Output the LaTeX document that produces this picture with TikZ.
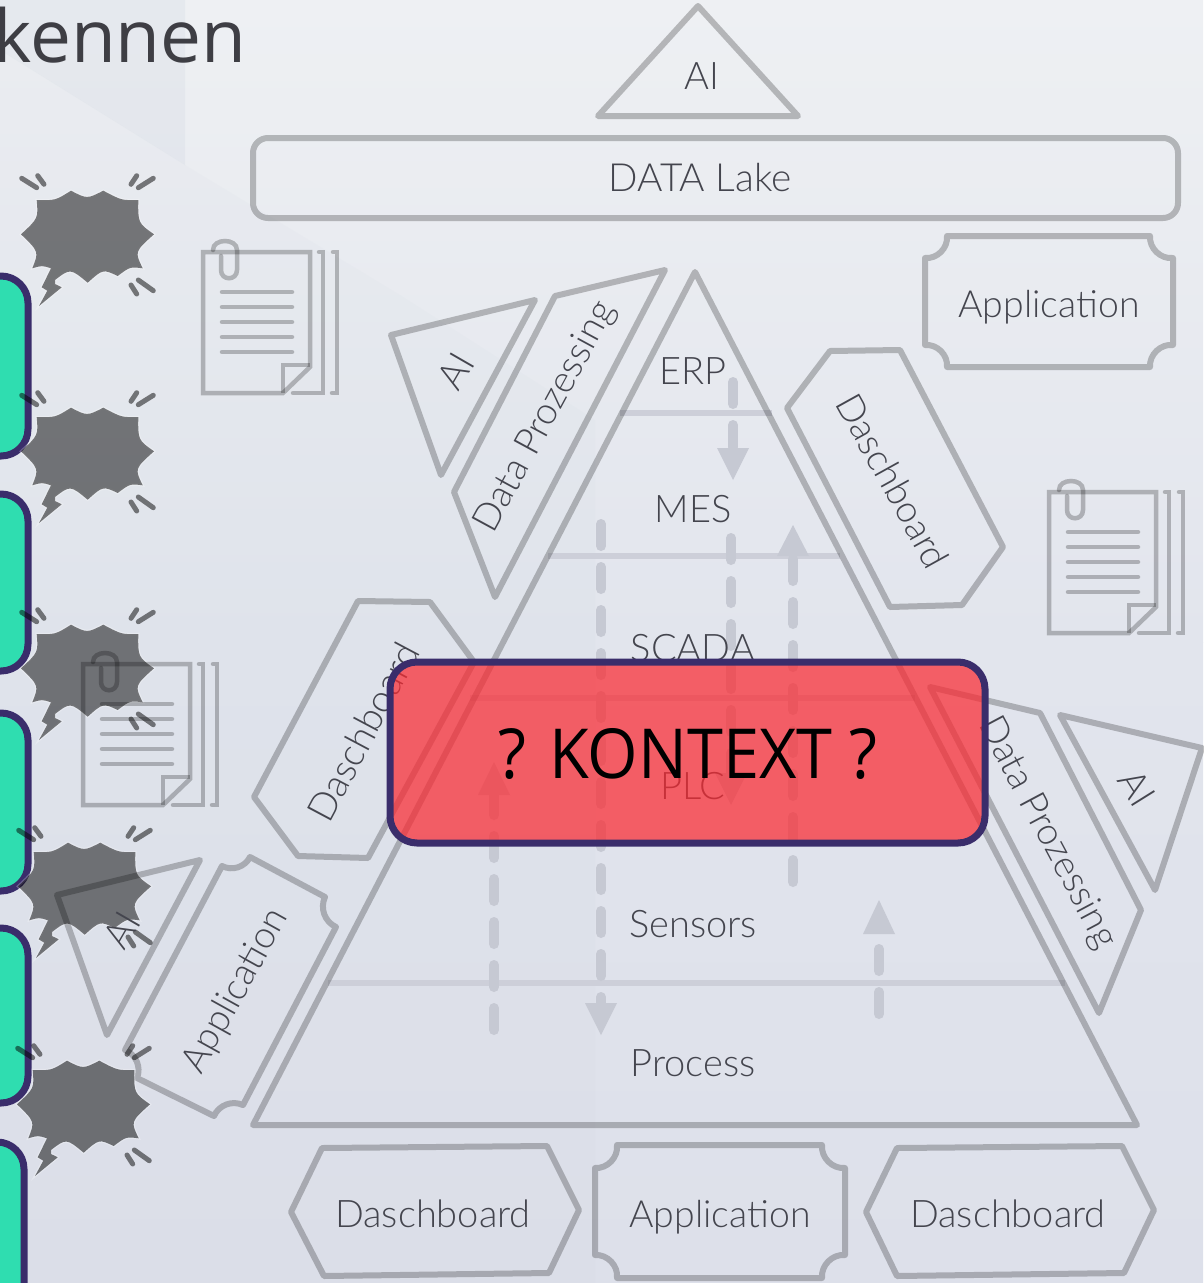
\documentclass[tikz,border=0pt]{standalone}
\usepackage{fontspec}
\setmainfont{Lato Light}
\newfontfamily\titlefont{Open Sans}
\definecolor{labelc}{HTML}{44454E}
\definecolor{dashc}{HTML}{C6C9D3}
\definecolor{dividerc}{HTML}{CDCFD9}
\definecolor{tealc}{HTML}{2FDDB0}
\definecolor{purplec}{HTML}{3A2D6B}
\definecolor{redc}{HTML}{FA2A32}
\definecolor{bgtop}{HTML}{EEF0F3}
\definecolor{bgmid}{HTML}{E2E5ED}
\definecolor{bgbot}{HTML}{DDE0EA}
\definecolor{titlec}{HTML}{3E3E44}
\definecolor{burstc}{HTML}{6C6E72}
\definecolor{wedgec}{HTML}{B8C4D2}
\tikzset{
  every node/.style={inner sep=0pt,outer sep=0pt},
  outl/.style={draw=black,draw opacity=.24,line width=6pt,line join=round,line cap=round},
  lab/.style={text=labelc,font=\fontsize{38}{40}\selectfont,anchor=center},
  divider/.style={draw=dividerc,line width=6pt},
  dashline/.style={draw=dashc,line width=10pt,line cap=round,dash pattern=on 22pt off 21pt},
  head/.style={fill=dashc},
  teal/.style={fill=tealc,draw=purplec,line width=7pt,rounded corners=27pt},
  docline/.style={draw=black,draw opacity=.24,line width=4.5pt,line join=miter},
  docrow/.style={draw=black,draw opacity=.24,line width=4.5pt,line cap=round},
  raystyle/.style={draw=black,draw opacity=.5,line width=5pt,line cap=round},
}
\newcommand{\burstpath}{(36.7,200) .. controls (55.3,200.5) .. (71,190.7) .. controls (87,199) .. (103.3,190.7) .. controls (121.6,200.4) .. (138.3,200) .. controls (138,223) .. (154,234.3) .. controls (134.6,251.7) .. (142.7,268.3) .. controls (130,266.7) .. (117.7,276) .. controls (103,269) .. (87.7,282.7) .. controls (70.3,268.3) .. (55,280) -- (55,284) -- (61.7,287.3) -- (39,306) -- (47.3,290.7) -- (41.7,287.3) -- (51,268.3) .. controls (42,265.4) .. (32.3,268.3) .. controls (39,251.7) .. (21,234.3) .. controls (38.3,218.3) .. (36.7,200) -- cycle}
\newcommand{\burst}[3]{%
 \begin{scope}[shift={(#1,#2)}]
  \path[draw=white,draw opacity=.25,line width=2.5pt] \burstpath;
  \path[#3] \burstpath;
  \draw[raystyle] (21.7,178.3)--(36.7,187.7) (37.7,175.7)--(44,184.3) (153.3,178.3)--(138.3,187.7) (136.7,175.7)--(131,184.3) (153.3,290.7)--(138.3,280) (136.7,294)--(131,285);
 \end{scope}}
\newcommand{\docicon}[2]{%
 \begin{scope}[shift={(#1,#2)}]
  \draw[docline] (310,367) -- (310,252) -- (203,252) -- (203,393) -- (283,393) -- cycle;
  \draw[docline] (283,393) -- (283,365) -- (310,365);
  \draw[docline,line cap=round] (213,250) .. controls (213,238) and (237,238) .. (237,250) -- (237,270) .. controls (237,281) and (221,281) .. (221,270) -- (221,256);
  \draw[docrow] (222,292)--(292,292) (222,307)--(292,307) (222,322)--(292,322) (222,337)--(292,337) (222,352)--(292,352);
  \draw[docline,line cap=round] (319,252) -- (323,252) -- (323,393) -- (293,393);
  \draw[docline,line cap=round] (333,252) -- (337,252) -- (337,393) -- (332,393);
 \end{scope}}
\begin{document}
\begin{tikzpicture}[x=1pt,y=-1pt]
\useasboundingbox (0,0) rectangle (1203,1283);
% background
\shade[top color=bgtop,bottom color=bgmid] (0,0) rectangle (1203,642);
\shade[top color=bgmid,bottom color=bgbot] (0,642) rectangle (1203,1283);
\fill[wedgec,opacity=.15] (0,0) -- (185,0) -- (185,165) -- (0,50) -- cycle;
\fill[wedgec,opacity=.05] (0,50) -- (185,165) -- (400,295) -- (595,420) -- (595,1283) -- (0,1283) -- cycle;
% title
\node[anchor=base east,text=titlec,font=\titlefont\fontsize{73}{76}\selectfont] (title) at (246.5,62) {kennen};
% teal boxes
\draw[teal] (-40,276) rectangle (28,456);
\draw[teal] (-40,494) rectangle (28,671);
\draw[teal] (-40,713) rectangle (28,891);
\draw[teal] (-40,928) rectangle (28,1103);
\draw[teal] (-40,1142) rectangle (24,1340);
% bursts
\burst{0}{0}{fill=black,fill opacity=.5}
\burst{0}{217}{fill=black,fill opacity=.5}
\burst{0}{434}{fill=black,fill opacity=.5}
\burst{-3}{652}{fill=black,fill opacity=.5}
% dividers
\draw[divider] (620,413) -- (772,413);
\draw[divider] (548,556) -- (840,556);
\draw[divider] (470,698) -- (915,698);
\draw[divider] (328,983) -- (1065,983);
% dashed arrows
\draw[dashline] (733,382) -- (733,450);
\fill[head] (717,448) -- (749,448) -- (733,480) -- cycle;
\draw[dashline] (731,538) -- (731,775);
\fill[head] (715,773) -- (747,773) -- (731,805) -- cycle;
\draw[dashline] (601,524) -- (601,1005);
\fill[head] (585,1003) -- (617,1003) -- (601,1035) -- cycle;
\draw[dashline] (793,882) -- (793,555);
\fill[head] (777,556) -- (809,556) -- (793,525) -- cycle;
\draw[dashline] (494,1030) -- (494,795);
\fill[head] (478,795) -- (510,795) -- (494,762) -- cycle;
\draw[dashline] (879,1014) -- (879,934);
\fill[head] (863,934) -- (895,934) -- (879,900) -- cycle;
% pyramid
\draw[outl] (695,272) -- (1137,1125) -- (253,1125) -- cycle;
\node[lab] (erp) at (693,371) {ERP};
\node[lab] (mes) at (693,509) {MES};
\node[lab] (scada) at (693,648) {SCADA};
\node[lab] (plc) at (693,786) {PLC};
\node[lab] (sensors) at (693,924) {Sensors};
\node[lab] (process) at (693,1063) {Process};
% top
\draw[outl] (698,6) -- (798,116) -- (598,116) -- cycle;
\node[lab] (aitop) at (702,76) {AI};
\draw[outl,rounded corners=15pt] (253,138) rectangle (1178,218);
\node[lab,font=\fontsize{38.8}{40}\selectfont] (lake) at (700,178) {DATA Lake};
% application top right
\draw[outl] (925,258) to[bend right=50] (947,236) -- (1150,236) to[bend right=50] (1173,258) -- (1173,345) to[bend right=50] (1150,367) -- (947,367) to[bend right=50] (925,345) -- cycle;
\node[lab,font=\fontsize{37.4}{40}\selectfont] (apptr) at (1049,307) {Application};
% upper-left AI + data
\draw[outl] (391,335) -- (535,300) -- (441,475) -- cycle;
\node[lab,rotate=60] (ai1) at (456,371) {AI};
\draw[outl] (555,296) -- (665,270) -- (495,597) -- (454,492) -- cycle;
\node[lab,rotate=61.5,font=\fontsize{37.4}{40}\selectfont] (dp1) at (546,417) {Data Prozessing};
% dashboard upper right
\draw[outl] (787,408) -- (830,351) -- (900,350) -- (1003,547) -- (962,605) -- (890,607) -- cycle;
\node[lab,rotate=-61,font=\fontsize{37.4}{40}\selectfont] (db1) at (893,481) {Daschboard};
% dashboard left
\draw[outl] (358,601) -- (430,602) -- (474,662) -- (368,858) -- (298,856) -- (254,797) -- cycle;
\node[lab,rotate=62] (db2) at (363,732) {Daschboard};
% data right + AI right
\draw[outl] (930,687) -- (1040,713) -- (1141,910) -- (1099,1013) -- cycle;
\node[lab,rotate=-62,font=\fontsize{37.4}{40}\selectfont] (dp2) at (1047,833) {Data Prozessing};
\draw[outl] (1060,715) -- (1202,748) -- (1155,890) -- cycle;
\node[lab,rotate=-58] (ai2) at (1137,788) {AI};
% docs
\docicon{0}{0}
\docicon{846}{240}
\docicon{-120}{412}
% AI left lower
\draw[outl] (57,895) -- (200,860) -- (107,1035) -- cycle;
\node[lab,rotate=60] (ai3) at (122,930) {AI};
% application lower left
\draw[outl] (222,866) to[bend right=45] (250,857) -- (325,897) to[bend right=45] (336,927) -- (243,1105) to[bend right=45] (214,1116) -- (137,1078) to[bend right=45] (125,1050) -- cycle;
\node[lab,rotate=61,font=\fontsize{37.4}{40}\selectfont] (app2) at (236,991) {Application};
% last burst
\burst{-4}{870}{fill=burstc}
% bottom row
\draw[outl] (291,1212) -- (322,1148) -- (547,1146) -- (579,1210) -- (549,1273) -- (324,1276) -- cycle;
\node[lab] (db3) at (433,1214) {Daschboard};
\draw[outl] (595,1168) to[bend right=50] (617,1145) -- (822,1145) to[bend right=50] (845,1168) -- (845,1255) to[bend right=50] (822,1278) -- (617,1278) to[bend right=50] (595,1255) -- cycle;
\node[lab,font=\fontsize{37.4}{40}\selectfont] (app3) at (720,1217) {Application};
\draw[outl] (866,1212) -- (897,1148) -- (1122,1146) -- (1154,1210) -- (1124,1273) -- (897,1276) -- cycle;
\node[lab] (db4) at (1008,1214) {Daschboard};
% red box
\draw[fill=redc,fill opacity=.72,draw=purplec,line width=7pt,rounded corners=27pt] (390,662) rectangle (985,843);
\node[text=black,xscale=.94,transform shape,font=\titlefont\fontsize{69}{72}\selectfont] (kontext) at (688,754) {? KONTEXT ?};
\end{tikzpicture}
\end{document}
